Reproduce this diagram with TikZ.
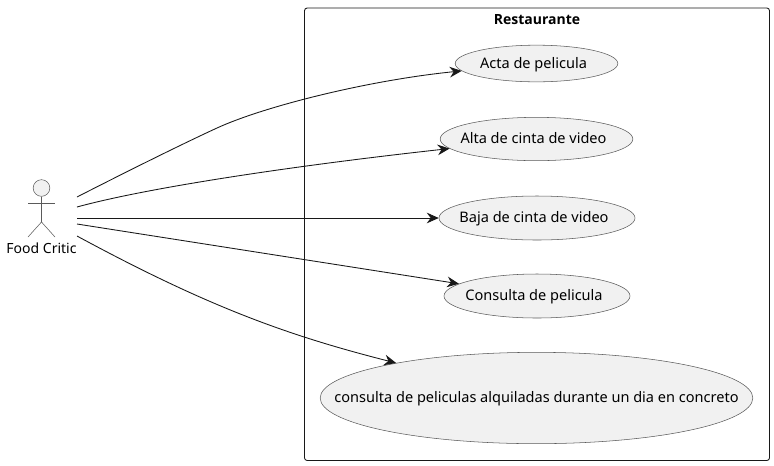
\documentclass[tikz,border=0pt]{standalone}
\usepackage{fontspec}
\setmainfont{Noto Sans}
\newfontfamily\titlefont{Open Sans}
\usetikzlibrary{shapes.geometric,arrows.meta}
\definecolor{usefill}{HTML}{F1F1F1}
\definecolor{useline}{HTML}{5A5A5A}
\definecolor{arrowline}{HTML}{181818}
\newcommand{\usetext}[1]{\makebox[0pt]{\raisebox{-3.6pt}[0pt][0pt]{#1}}}
\newcommand{\usetextleft}[1]{\usetext{#1\hspace*{4.5pt}}}
\tikzset{>={Stealth[length=9pt,width=8pt,inset=3pt]}}
\tikzset{usecase/.style={draw=useline, fill=usefill, ellipse, line width=0.4pt, inner sep=0pt, font=\fontsize{10.9pt}{12pt}\selectfont}}
\tikzset{link/.style={draw=arrowline, line width=0.65pt, ->}}

\begin{document}
\begin{tikzpicture}[x=0.75pt, y=-0.75pt]
    \useasboundingbox (0,0) rectangle (774,465);

    % system box
    \draw [arrowline, line width=0.65pt, rounded corners=2pt] (304.5,8) rectangle (769.5,460.5);
    \node (title) at (537,19.5) {\fontsize{10.5pt}{12pt}\titlefont\bfseries Restaurante};

    % use cases
    \node [usecase, minimum width=122pt, minimum height=27.5pt] (acta) at (536.5,63.5) {\usetextleft{Acta de pelicula}};
    \node [usecase, minimum width=144.5pt, minimum height=32.5pt] (alta) at (536.5,139) {\usetextleft{Alta de cinta de video}};
    \node [usecase, minimum width=147pt, minimum height=33pt] (baja) at (537,218) {\usetextleft{Baja de cinta de video}};
    \node [usecase, minimum width=139.5pt, minimum height=33pt] (consulta) at (537,296) {\usetextleft{Consulta de pelicula}};
    \node [usecase, minimum width=324.5pt, minimum height=68.5pt] (alquiladas) at (536.5,398) {\usetext{consulta de peliculas alquiladas durante un dia en concreto}};

    % actor
    \node [circle, draw=useline, fill=usefill, line width=0.4pt, minimum size=12.5pt, inner sep=0pt] (head) at (41.5,188) {};
    \coordinate (hip) at (41.5,222);
    \coordinate (handl) at (28,203);
    \coordinate (handr) at (55,203);
    \coordinate (footl) at (28,237);
    \coordinate (footr) at (55,237);
    \draw [useline, line width=0.4pt] (head) -- (hip);
    \draw [useline, line width=0.4pt] (handl) -- (handr);
    \draw [useline, line width=0.4pt] (footl) -- (hip) -- (footr);
    \node (critic) at (41.5,248) {\fontsize{10.5pt}{12pt}\selectfont Food Critic};

    % connector ends on the actor side
    \coordinate (out1) at (77,197);
    \coordinate (out2) at (77,207);
    \coordinate (out3) at (77,218);
    \coordinate (out4) at (77,224);
    \coordinate (out5) at (77,236);

    \draw [link] (out1) .. controls (120,175) and (180,145) .. (217,128) .. controls (265,106) and (370,80) .. (acta);
    \draw [link] (out2) .. controls (150,187) and (300,165) .. (alta);
    \draw [link] (out3) -- (baja);
    \draw [link] (out4) -- (consulta);
    \draw [link] (out5) .. controls (210,308) and (290,336) .. (alquiladas.166);

\end{tikzpicture}
\end{document}
